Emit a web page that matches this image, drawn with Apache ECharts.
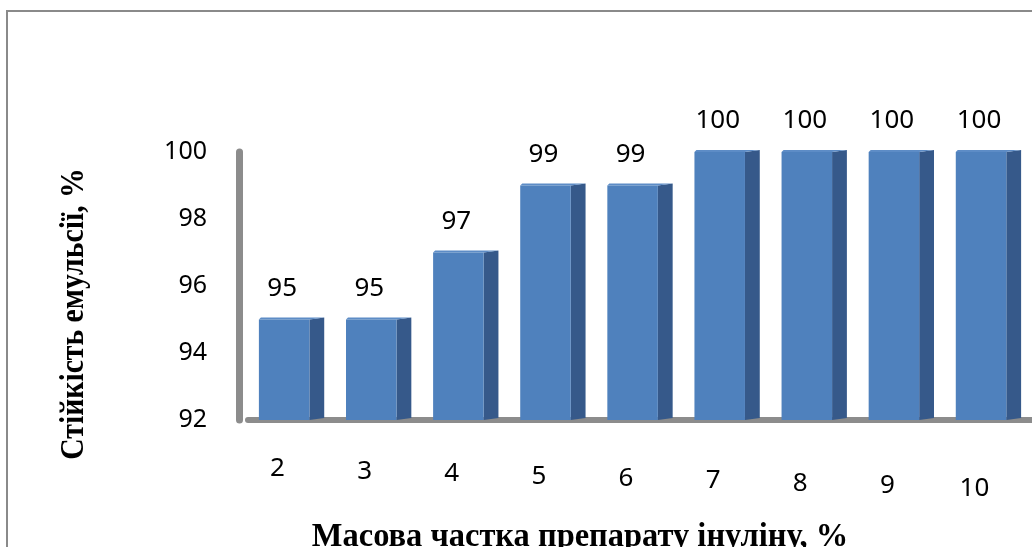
<!DOCTYPE html>
<html>
<head>
<meta charset="utf-8">
<script src="https://cdn.jsdelivr.net/npm/echarts@6/dist/echarts.min.js"></script>
<style>
  html, body { margin: 0; padding: 0; background: #fff; }
  #chart { width: 1032px; height: 547px; }
</style>
</head>
<body>
<div id="chart"></div>
<script>
// Inulin mass fraction (%) and emulsion stability (%)
const categories = ['2', '3', '4', '5', '6', '7', '8', '9', '10'];
const stability = [95, 95, 97, 99, 99, 100, 100, 100, 100];
const yTicks = [92, 94, 96, 98, 100];

const yTitle = 'Стійкість емульсії, %';
const xTitle = 'Масова частка препарату інуліну, %';

const FRONT = '#4f81bd';
const SIDE = '#36598a';
const TOP = '#5d8cc6';
const FLOOR = '#8c8c8c';

const chart = echarts.init(document.getElementById('chart'));

// Draws each column as a simple extruded box: front face, darker side, thin top.
function renderBox(params, api) {
  const idx = api.value(0);
  const val = api.value(1);
  const top = api.coord([idx, val]);
  const base = api.coord([idx, yTicks[0]]);
  const band = api.size([1, 0])[0];
  const frontW = band * 0.58;
  const sideW = band * 0.17;
  const x0 = top[0] - (frontW + sideW) / 2;
  const x1 = x0 + frontW;
  const x2 = x1 + sideW;
  const d = 2;
  return {
    type: 'group',
    children: [
      { type: 'polygon', shape: { points: [[x1, top[1]], [x2, top[1] - d], [x2, base[1] - d], [x1, base[1]]] },
        style: { fill: SIDE } },
      { type: 'polygon', shape: { points: [[x0, top[1]], [x0 + 2, top[1] - d], [x2, top[1] - d], [x1, top[1]]] },
        style: { fill: TOP } },
      { type: 'rect', shape: { x: x0, y: top[1], width: frontW, height: base[1] - top[1] },
        style: { fill: FRONT } },
      { type: 'text', x: x0 + frontW / 2 - 2, y: top[1] - 18,
        style: { text: String(val), fill: '#000', font: '26px "Noto Sans", sans-serif',
                 textAlign: 'center', textVerticalAlign: 'bottom' } }
    ]
  };
}

// Category labels sink a little towards the right, following the tilted floor.
const labelFont = { color: '#000', fontSize: 26, fontFamily: 'Noto Sans' };
const xLabels = categories.map((c, i) => ({
  value: c,
  textStyle: Object.assign({}, labelFont, { padding: [i * 2.4, 28, 0, 0] })
}));

chart.setOption({
  animation: false,
  grid: { left: 248, width: 815, top: 152, bottom: 127, containLabel: false },
  xAxis: {
    type: 'category',
    data: xLabels,
    axisLine: { show: true, lineStyle: { color: FLOOR, width: 6 } },
    axisTick: { show: false },
    axisLabel: Object.assign({ margin: 36 }, labelFont)
  },
  yAxis: {
    type: 'value',
    min: 92, max: 100, interval: 2,
    offset: 9,
    axisLine: { show: true, lineStyle: { color: FLOOR, width: 7 } },
    axisTick: { show: false },
    splitLine: { show: false },
    axisLabel: { color: '#000', fontSize: 25, fontFamily: 'Noto Sans', margin: 32 }
  },
  graphic: [
    { type: 'rect', shape: { x: 7, y: 11, width: 1100, height: 600 },
      style: { fill: 'none', stroke: '#8a8a8a', lineWidth: 2 }, z: -1 },
    { type: 'text', x: 74, y: 314, rotation: Math.PI / 2, scaleX: 0.9,
      style: { text: yTitle, fill: '#000', font: 'bold 33px "Liberation Serif", serif',
               textAlign: 'center', textVerticalAlign: 'middle' } },
    { type: 'text', x: 580, y: 554, scaleX: 0.955,
      style: { text: xTitle, fill: '#000', font: 'bold 34px "Liberation Serif", serif',
               textAlign: 'center', textVerticalAlign: 'bottom' } }
  ],
  series: [{
    type: 'custom',
    renderItem: renderBox,
    encode: { x: 0, y: 1 },
    data: stability.map((v, i) => [i, v]),
    clip: false
  }]
});
</script>
</body>
</html>
